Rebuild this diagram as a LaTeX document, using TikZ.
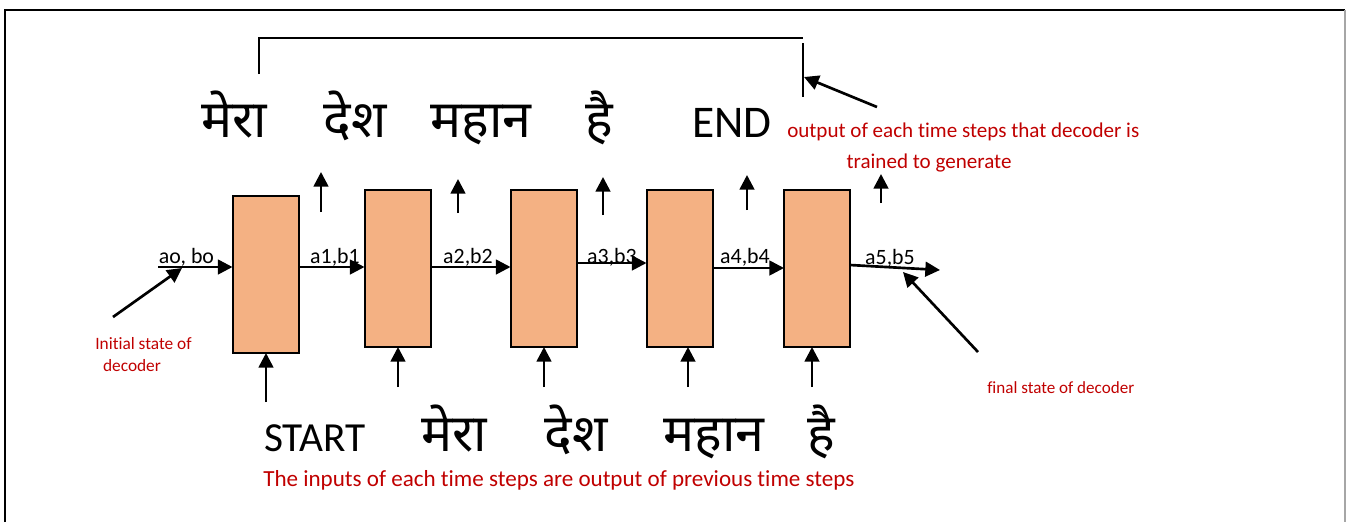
\documentclass[tikz,border=0pt]{standalone}
\usepackage{fontspec}
\setmainfont{Carlito}[Ligatures=NoCommon]
\newfontfamily\deva[Script=Devanagari]{Noto Sans}
\usetikzlibrary{arrows.meta}
\definecolor{boxfill}{HTML}{F4B183}
\definecolor{redtxt}{HTML}{C00000}
\begin{document}
\begin{tikzpicture}[x=0.75pt,y=-0.75pt,
  cell/.style={draw=black, line width=1.5pt, fill=boxfill, minimum width=49.5pt, minimum height=117.75pt, inner sep=0pt, outer sep=0pt},
  arr/.style={-{Triangle[length=11pt,width=11pt]}, line width=2pt},
  lbl/.style={inner sep=0pt, anchor=base, font=\fontsize{16.4}{19}\selectfont},
  word/.style={inner sep=0pt, anchor=base, font=\deva\fontsize{39}{44}\selectfont},
  bigtxt/.style={inner sep=0pt, anchor=base},
  note/.style={inner sep=0pt, text=redtxt}]
\useasboundingbox (0,0) rectangle (1348,522);
% frame
\draw[line width=1.5pt] (5,522) -- (5,10) -- (1345,10);
\draw[line width=1.5pt, gray!70] (1345,10) -- (1345,522);
% cells
\node[cell] (b1) at (265.5,274.5) {};
\node[cell] (b2) at (397.5,268.5) {};
\node[cell] (b3) at (543.5,268.5) {};
\node[cell] (b4) at (679.5,268.5) {};
\node[cell] (b5) at (817,268.5) {};
% state arrows
\coordinate (s0) at (158,267);
\coordinate (s5) at (940,270);
\draw[arr] (s0) -- (b1.west |- s0);
\draw[arr] (b1.east |- 0,267) -- (b2.west |- 0,267);
\draw[arr] (b2.east |- 0,267) -- (b3.west |- 0,267);
\draw[arr] (b3.east |- 0,263) -- (b4.west |- 0,263);
\draw[arr] (b4.east |- 0,268) -- (b5.west |- 0,268);
\draw[arr] (b5.east |- 0,265) -- (s5);
% state labels
\node[lbl] (l0) at (186.5,263) {ao, bo};
\node[lbl] (l1) at (335,263) {a1,b1};
\node[lbl] (l2) at (468,263) {a2,b2};
\node[lbl] (l3) at (612,263) {a3,b3};
\node[lbl] (l4) at (745,263) {a4,b4};
\node[lbl] (l5) at (890,264) {a5,b5};
% input arrows
\coordinate (i1) at (266,402);
\coordinate (i2) at (398,387);
\coordinate (i3) at (544,387);
\coordinate (i4) at (688,387);
\coordinate (i5) at (812,387);
\draw[arr] (i1) -- (i1 |- b1.south);
\draw[arr] (i2) -- (i2 |- b2.south);
\draw[arr] (i3) -- (i3 |- b3.south);
\draw[arr] (i4) -- (i4 |- b4.south);
\draw[arr] (i5) -- (i5 |- b5.south);
% output arrows
\coordinate (o1a) at (321,212); \coordinate (o1b) at (321,172);
\coordinate (o2a) at (458,213); \coordinate (o2b) at (458,179);
\coordinate (o3a) at (603,215); \coordinate (o3b) at (603,177);
\coordinate (o4a) at (747,210); \coordinate (o4b) at (747,175);
\coordinate (o5a) at (881,203); \coordinate (o5b) at (881,174);
\draw[arr] (o1a) -- (o1b);
\draw[arr] (o2a) -- (o2b);
\draw[arr] (o3a) -- (o3b);
\draw[arr] (o4a) -- (o4b);
\draw[arr] (o5a) -- (o5b);
% top words
\node[word] (t1) at (234,137) {मेरा};
\node[word] (t2) at (355,137) {देश};
\node[word] (t3) at (481,137) {महान};
\node[word] (t4) at (599,137) {है};
\node[bigtxt, font=\fontsize{34}{40}\selectfont] (t5) at (732,137) {END};
% bottom words
\node[bigtxt, font=\fontsize{31}{36}\selectfont] (w0) at (315,451) {START};
\node[word] (w1) at (454,451) {मेरा};
\node[word] (w2) at (576,451) {देश};
\node[word] (w3) at (714,451) {महान};
\node[word] (w4) at (821,451) {है};
% bracket
\coordinate (k1) at (259,74);
\coordinate (k2) at (259,38);
\coordinate (k3) at (803,38);
\coordinate (k4) at (803,43);
\coordinate (k5) at (803,97);
\draw[line width=1.5pt] (k1) -- (k2) -- (k3);
\draw[line width=1.5pt] (k4) -- (k5);
% notes
\node[note, anchor=base west, font=\fontsize{15.8}{19}\selectfont] (n1) at (787,137) {output of each time steps that decoder is};
\node[note, anchor=base, font=\fontsize{15.8}{19}\selectfont] (n2) at (929,168) {trained to generate};
\node[note, anchor=base west, font=\fontsize{17.3}{20}\selectfont] (n3) at (263,486) {The inputs of each time steps are output of previous time steps};
\node[note, anchor=base, font=\fontsize{13}{16}\selectfont] (n4) at (143.5,349) {Initial state of};
\node[note, anchor=base, font=\fontsize{13}{16}\selectfont] (n5) at (132,371) {decoder};
\node[note, anchor=base west, font=\fontsize{12.8}{16}\selectfont] (n6) at (987,393) {final state of decoder};
% pointer arrows
\coordinate (p1) at (877,107);
\coordinate (p1t) at (804,77);
\draw[arr] (p1) -- (p1t);
\coordinate (p2) at (113,317);
\coordinate (p2t) at (182,268);
\draw[arr] (p2) -- (p2t);
\coordinate (p3) at (978,352);
\coordinate (p3t) at (903,272);
\draw[arr] (p3) -- (p3t);
\end{tikzpicture}
\end{document}
